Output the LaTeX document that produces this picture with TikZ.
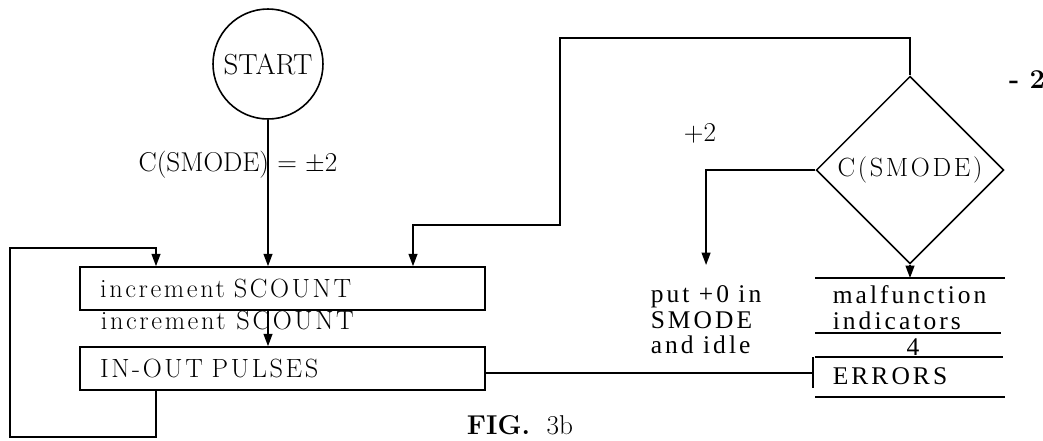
\documentclass[tikz,border=0pt]{standalone}
\usepackage{fontspec}
\setmainfont{Latin Modern Roman}
\newfontfamily\tmsfont{Liberation Serif}[LetterSpace=12]
\usetikzlibrary{positioning,arrows.meta,shapes.geometric,calc}

\begin{document}
\begin{tikzpicture}[
  x=0.02cm, y=-0.02cm,
  >={Triangle[length=7pt,width=5pt]},
  line width=0.9pt,
  txt/.style={font=\fontsize{15.5}{16}\selectfont},
  wide/.style={font=\fontsize{15}{16}\selectfont\addfontfeatures{LetterSpace=10}},
  tms/.style={font=\fontsize{14.5}{14.5}\selectfont\tmsfont, align=left, inner sep=0pt},
  box/.style={draw, wide, rectangle, text width=7.3cm, align=left, inner xsep=0.4cm,
              inner ysep=0pt, minimum height=0.86cm},
  arr/.style={->}
]
\useasboundingbox (0,0) rectangle (1043,440);
% ---------------- start and counting boxes
\node[draw, circle, minimum size=2.2cm, inner sep=0pt, font=\fontsize{16.5}{17}\selectfont] (start) at (268,64) {START};
\node[txt] (cs) at (238,165) {C(SMODE) = $\pm$2};
\node[box] (b1) at (282.5,288.5) {increment SCOUNT};
\node[wide, anchor=west, inner sep=0pt] (dup) at (100,320) {increment SCOUNT};
\node[box] (b2) at (282.5,368.5) {IN-OUT PULSES};
\draw[arr] (start.south) -- (start.south |- b1.north);
\draw[arr] (start.south |- b1.south) -- (start.south |- b2.north);
% left loop back to the first box
\coordinate (lx) at (156,0);
\coordinate (lb) at (10,437);
\coordinate (lt) at (10,248);
\draw[arr] (lx |- b2.south) |- (lb) |- (lx |- lt) -- (lx |- b1.north);
% ---------------- decision
\node[draw, diamond, aspect=1, minimum size=3.75cm, inner sep=0pt, wide] (dec) at (910,170) {C(SMODE)};
\node[txt] (m2) at (1027,80) {\textbf{- 2}};
\node[txt] (p2) at (700,133) {+2};
\coordinate (tr) at (560,38);
\coordinate (tb) at (413,225);
\draw[arr] (dec.north) |- (tr) |- (tb) -- (tb |- b1.north);
% +2 branch
\node[tms, anchor=north west, inner ysep=0.4cm] (put) at (650,265) {put +0 in\\SMODE\\and idle};
\draw[arr] (dec.west) -| (put.north);
% ---------------- error table
\node[tms, anchor=north west] (mal) at (832,285) {malfunction\\indicators};
\node[tms, anchor=base] (four) at (913,355) {4};
\node[tms, anchor=base west] (errs) at (832,384) {ERRORS};
\draw (815,278) -- (1005,278);
\draw (815,333) -- (1001,333);
\draw (815,357) -- (1003,357);
\draw (815,397) -- (1005,397);
\draw (813,357) -- (813,388);
\coordinate (tabtop) at (910,278);
\coordinate (tick) at (813,373);
\draw[arr] (dec.south) -- (tabtop);
\draw (b2.east |- tick) -- (tick);
% ---------------- caption
\node[txt] (fig) at (520,425) {\textbf{FIG.}\ \ 3b};
\end{tikzpicture}
\end{document}
